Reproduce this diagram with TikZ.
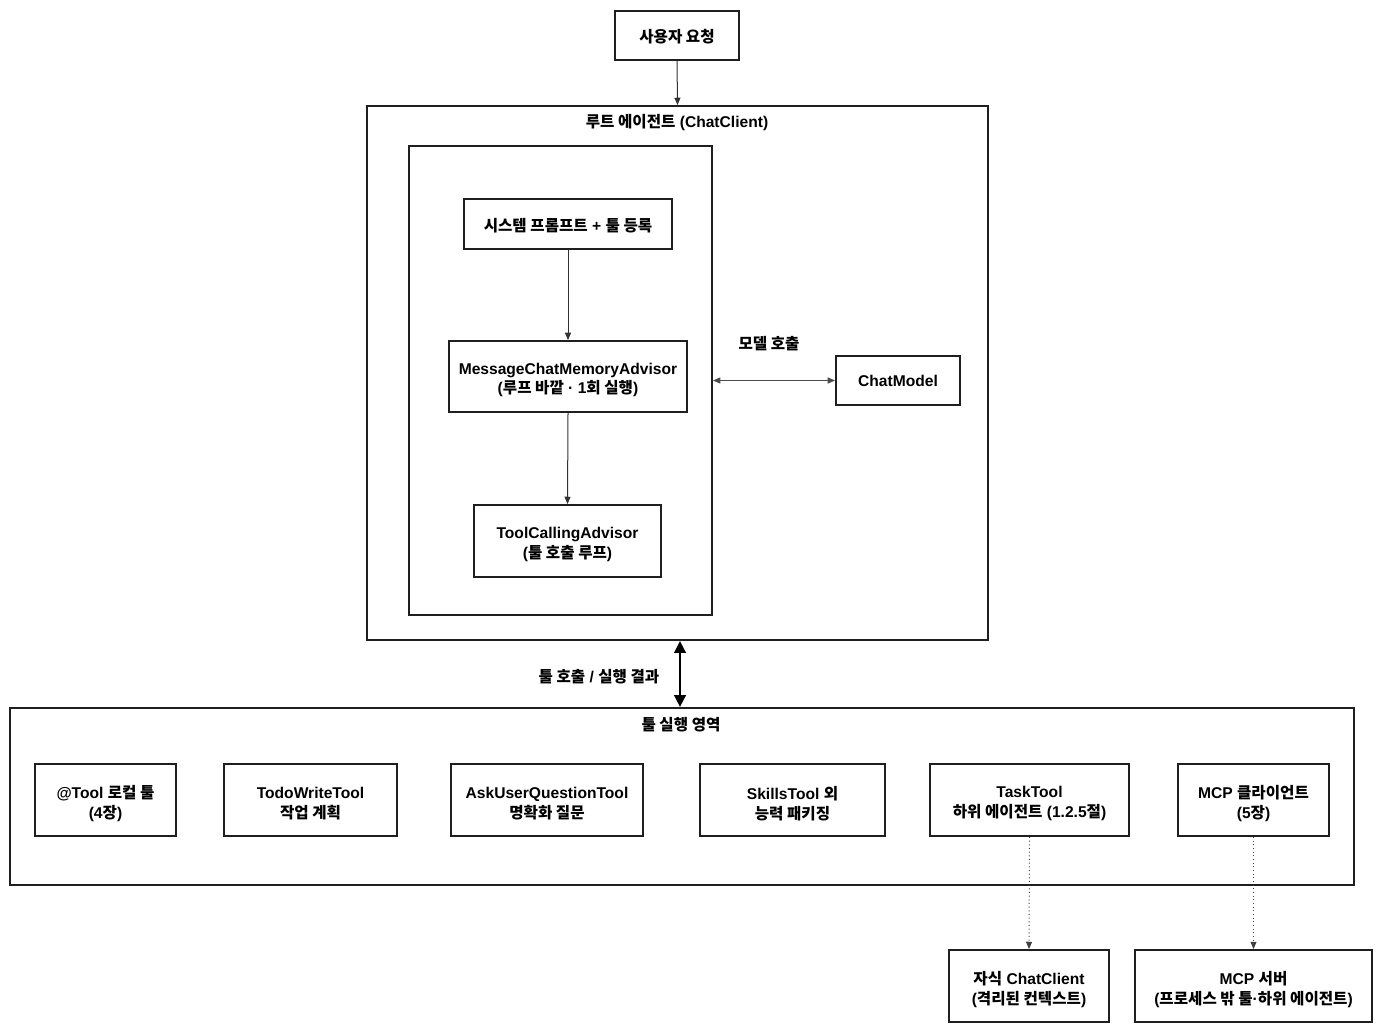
\documentclass[tikz,border=0pt]{standalone}
\usepackage{fontspec}
\setmainfont{Liberation Sans}
\newfontfamily\kofont{Noto Sans CJK KR}
\newcommand\ko[1]{{\kofont #1}}
\usetikzlibrary{arrows.meta}
\tikzset{
  box/.style={draw=black!88, line width=1.4pt, inner sep=0pt},
  lbl/.style={inner sep=0pt, align=center, font=\bfseries\fontsize{11.7}{14.5}\selectfont},
  conn/.style={draw=black!80, line width=0.75pt, -{Triangle[length=5.5pt,width=4.5pt]}},
  biconn/.style={draw=black!70, line width=0.75pt, {Triangle[length=5.5pt,width=4.5pt]}-{Triangle[length=5.5pt,width=4.5pt]}},
  thick2/.style={draw=black, line width=2.2pt, {Triangle[length=9pt,width=8.5pt]}-{Triangle[length=9pt,width=8.5pt]}},
  dotconn/.style={draw=black!75, line width=0.75pt, dotted, -{Triangle[length=5.5pt,width=4.5pt]}},
}
% #1 name, #2..#5 corners (px), #6 text shift (px), #7 text
\newcommand\bx[7]{\node[box, minimum width={(#4-#2)*0.75pt}, minimum height={(#5-#3)*0.75pt}] (#1) at ({(#2+#4)/2},{(#3+#5)/2}) {};
  \node[lbl] (#1-t) at ({(#2+#4)/2},{(#3+#5)/2+#6}) {#7};}
\begin{document}
\begin{tikzpicture}[x=0.75pt,y=-0.75pt]
\useasboundingbox (0,0) rectangle (1383,1032);
% containers
\node[box, minimum width={621*0.75pt}, minimum height={534*0.75pt}] (root) at (677.5,373) {};
\node[box, minimum width={303*0.75pt}, minimum height={469*0.75pt}] (inner) at (560.5,380.5) {};
\node[box, minimum width={1344*0.75pt}, minimum height={177*0.75pt}] (area) at (682,796.5) {};
\node[lbl] (roott) at (677,122.5) {\ko{루트 에이전트} (ChatClient)};
\node[lbl] (areat) at (681,724.5) {\ko{툴 실행 영역}};
% top
\bx{user}{615}{11}{739}{60}{1.2}{\ko{사용자 요청}}
\bx{sys}{464}{199}{672}{249}{1.2}{\ko{시스템 프롬프트} + \ko{툴 등록}}
\bx{msg}{449}{341}{687}{412}{3.5}{MessageChatMemoryAdvisor\\(\ko{루프 바깥} · 1\ko{회 실행})}
\bx{tca}{474}{505}{661}{577}{3.5}{ToolCallingAdvisor\\(\ko{툴 호출 루프})}
\bx{cm}{836}{356}{960}{405}{0.3}{ChatModel}
% tools row
\bx{t1}{35}{764}{176}{836}{3.5}{@Tool \ko{로컬 툴}\\(4\ko{장})}
\bx{t2}{224}{764}{397}{836}{3.5}{TodoWriteTool\\\ko{작업 계획}}
\bx{t3}{451}{764}{643}{836}{3.5}{AskUserQuestionTool\\\ko{명확화 질문}}
\bx{t4}{700}{764}{885}{836}{3.5}{SkillsTool \ko{외}\\\ko{능력 패키징}}
\bx{t5}{930}{764}{1129}{836}{3.5}{TaskTool\\\ko{하위 에이전트} (1.2.5\ko{절})}
\bx{t6}{1178}{764}{1329}{836}{3.5}{MCP \ko{클라이언트}\\(5\ko{장})}
% bottom
\bx{child}{949}{950}{1109}{1022}{3.5}{\ko{자식} ChatClient\\(\ko{격리된 컨텍스트})}
\bx{srv}{1135}{950}{1372}{1022}{3.5}{MCP \ko{서버}\\(\ko{프로세스 밖 툴}·\ko{하위 에이전트})}
% connectors
\coordinate (xa) at (680,0);
\draw[conn] (user.south) -- (root.north);
\draw[conn] (sys.south) -- (msg.north);
\draw[conn] (msg.south) -- (tca.north);
\draw[biconn] (inner.east |- cm.west) -- (cm.west);
\node[lbl] (mc) at (769,344) {\ko{모델 호출}};
\draw[thick2] (root.south -| xa) -- (area.north -| xa);
\node[lbl] (tl) at (599,677) {\ko{툴 호출} / \ko{실행 결과}};
\draw[dotconn] (t5.south) -- (child.north);
\draw[dotconn] (t6.south) -- (srv.north);
\end{tikzpicture}
\end{document}
